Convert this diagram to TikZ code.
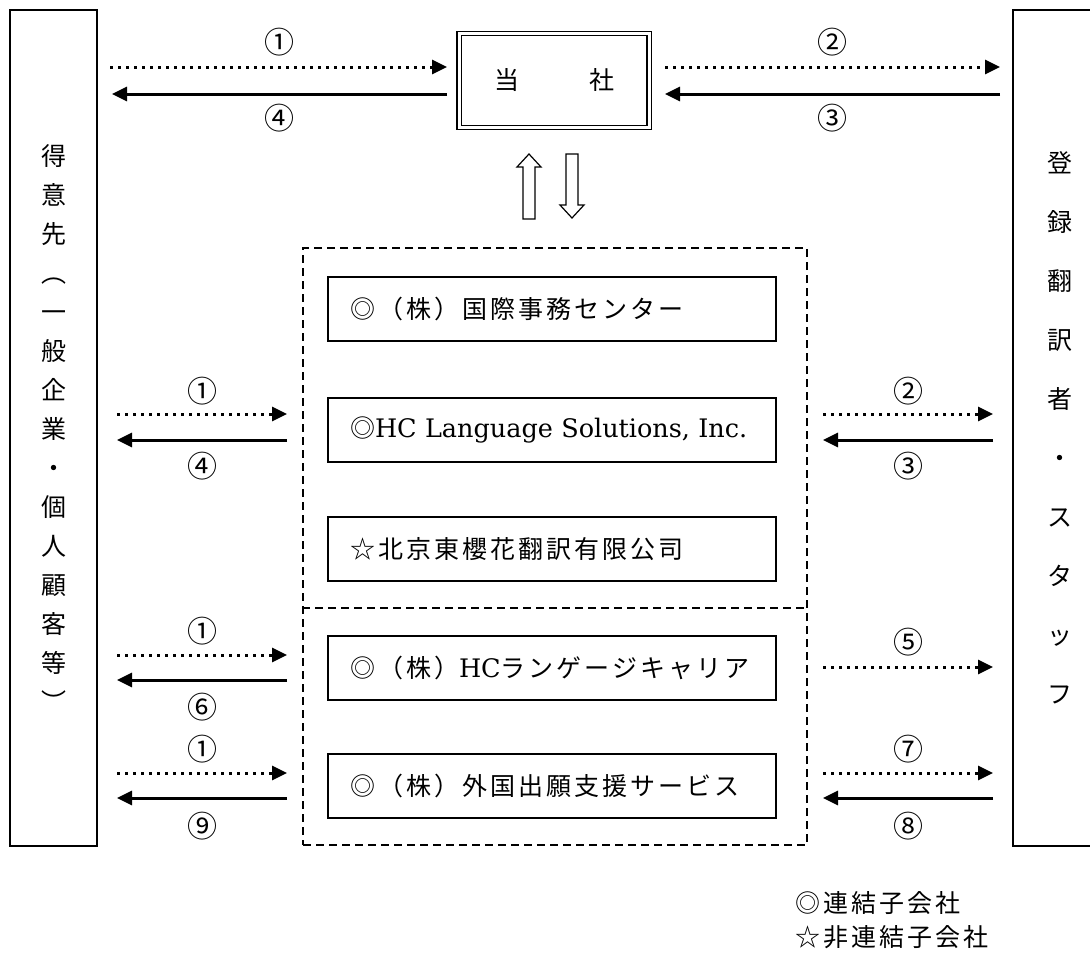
\documentclass[tikz,border=0pt]{standalone}
\usepackage{fontspec}
\usetikzlibrary{arrows.meta}
\newfontfamily\jp[LetterSpace=12]{Noto Sans CJK JP}
\newfontfamily\jpv{Noto Sans CJK JP}
\newfontfamily\latn{DejaVu Serif}
\tikzset{
  frame/.style={draw, line width=1.6pt, inner sep=0pt},
  org/.style={draw, line width=1.6pt, minimum height=64pt, text width=404pt, inner xsep=22pt, inner ysep=0pt, align=left, font=\jp\fontsize{25}{30}\selectfont},
  grpline/.style={line width=1.6pt, dash pattern=on 8pt off 5pt},
  dotarr/.style={line width=3pt, dash pattern=on 3pt off 5pt, -{Triangle[length=15pt,width=14pt]}},
  solarr/.style={line width=3pt, -{Triangle[length=15pt,width=14pt]}},
  num/.style={font=\jpv\fontsize{30}{30}\selectfont, inner sep=0pt},
  hollow/.style={draw, line width=1.2pt, fill=white, line join=miter},
}
\begin{document}
\begin{tikzpicture}[x=1pt,y=-1pt]
\fill[white] (0,0) rectangle (1090,953);
\useasboundingbox (0,0) rectangle (1090,953);

% side boxes
\node[frame, minimum width=87pt, minimum height=836pt, align=center, font=\jpv\fontsize{25}{39}\selectfont] (L) at (53.5,428)
  {得\\意\\先\\︵\\一\\般\\企\\業\\・\\個\\人\\顧\\客\\等\\︶};
\node[inner sep=0pt, minimum width=94pt, minimum height=836pt, align=center, font=\jpv\fontsize{25}{59}\selectfont] (R) at (1060,428)
  {登\\録\\翻\\訳\\者\\・\\ス\\タ\\ッ\\フ};
\draw[line width=1.6pt] (R.north east) -- (R.north west) -- (R.south west) -- (R.south east);

% top company box
\node[draw, double, double distance=3pt, line width=1.1pt, minimum width=190pt, minimum height=94pt, font=\jp\fontsize{25}{30}\selectfont] (T) at (554,80.5) {当\hspace{70pt}社};

% hollow arrows
\draw[hollow] (523,219) -- (523,167) -- (517,167) -- (529,154) -- (541,167) -- (535,167) -- (535,219) -- cycle;
\draw[hollow] (566,154) -- (566,205) -- (560,205) -- (572,218) -- (584,205) -- (578,205) -- (578,154) -- cycle;

% group
\node[grpline, draw, minimum width=504pt, minimum height=597pt] (G) at (555,546.5) {};
\coordinate (sep) at (0,608);
\draw[grpline] (G.west |- sep) -- (G.east |- sep);

\node[org] (B1) at (552,309) {◎（株）国際事務センター};
\node[org] (B2) at (552,430) {◎{\latn\fontsize{25.5}{30}\selectfont HC Language Solutions, Inc.}};
\node[org] (B3) at (552,549) {☆北京東櫻花翻訳有限公司};
\node[org] (B4) at (552,668) {◎（株）{\latn\fontsize{25.5}{30}\selectfont HC}ランゲージキャリア};
\node[org] (B5) at (552,786) {◎（株）外国出願支援サービス};

% coordinates for arrows
\coordinate (t1a) at (110,67);  \coordinate (t1b) at (447,67);
\coordinate (t4a) at (447,94);  \coordinate (t4b) at (112,94);
\coordinate (t2a) at (665,67);  \coordinate (t2b) at (1000,67);
\coordinate (t3a) at (1000,94); \coordinate (t3b) at (665,94);

\coordinate (r2la) at (117,414); \coordinate (r2lb) at (287,414);
\coordinate (r2lc) at (287,440); \coordinate (r2ld) at (117,440);
\coordinate (r2ra) at (823,414); \coordinate (r2rb) at (993,414);
\coordinate (r2rc) at (993,440); \coordinate (r2rd) at (823,440);

\coordinate (r4la) at (117,655); \coordinate (r4lb) at (287,655);
\coordinate (r4lc) at (287,680); \coordinate (r4ld) at (117,680);
\coordinate (r4ra) at (823,667); \coordinate (r4rb) at (993,667);

\coordinate (r5la) at (117,773); \coordinate (r5lb) at (287,773);
\coordinate (r5lc) at (287,798); \coordinate (r5ld) at (117,798);
\coordinate (r5ra) at (823,773); \coordinate (r5rb) at (993,773);
\coordinate (r5rc) at (993,798); \coordinate (r5rd) at (823,798);

% arrows
\draw[dotarr] (t1a) -- (t1b);
\draw[solarr] (t4a) -- (t4b);
\draw[dotarr] (t2a) -- (t2b);
\draw[solarr] (t3a) -- (t3b);

\draw[dotarr] (r2la) -- (r2lb);
\draw[solarr] (r2lc) -- (r2ld);
\draw[dotarr] (r2ra) -- (r2rb);
\draw[solarr] (r2rc) -- (r2rd);

\draw[dotarr] (r4la) -- (r4lb);
\draw[solarr] (r4lc) -- (r4ld);
\draw[dotarr] (r4ra) -- (r4rb);

\draw[dotarr] (r5la) -- (r5lb);
\draw[solarr] (r5lc) -- (r5ld);
\draw[dotarr] (r5ra) -- (r5rb);
\draw[solarr] (r5rc) -- (r5rd);

% labels
\node[num] (n1) at (279,42) {①};
\node[num] (n4) at (279,118) {④};
\node[num] (n2) at (832,42) {②};
\node[num] (n3) at (832,118) {③};

\node[num] (m1) at (202,391) {①};
\node[num] (m4) at (202,466) {④};
\node[num] (m2) at (908,391) {②};
\node[num] (m3) at (908,466) {③};

\node[num] (p1) at (202,631) {①};
\node[num] (p6) at (202,707) {⑥};
\node[num] (p5) at (908,642) {⑤};

\node[num] (q1) at (202,749) {①};
\node[num] (q9) at (202,826) {⑨};
\node[num] (q7) at (908,749) {⑦};
\node[num] (q8) at (908,826) {⑧};

% legend
\node[anchor=west, inner sep=0pt, align=left, font=\jp\fontsize{25}{34}\selectfont] (leg) at (795,920) {◎連結子会社\\☆非連結子会社};
\end{tikzpicture}
\end{document}
